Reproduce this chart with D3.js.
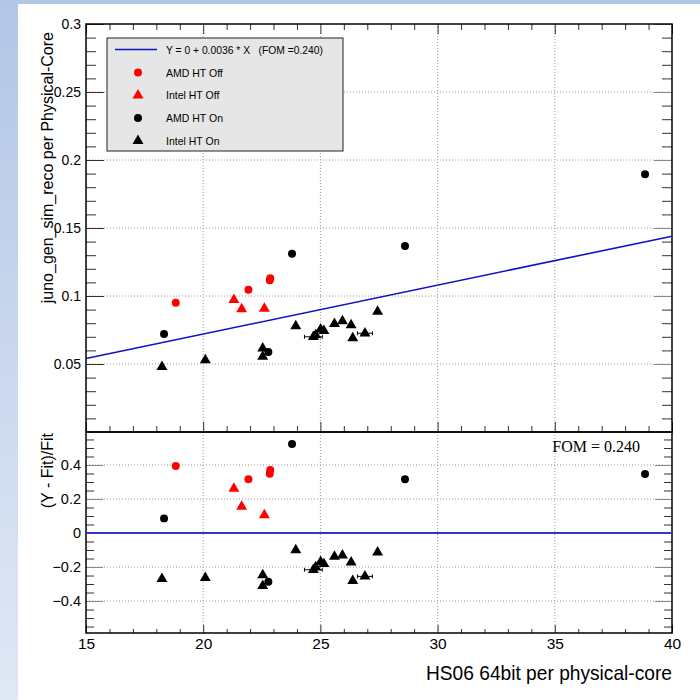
<!DOCTYPE html>
<html>
<head>
<meta charset="utf-8">
<script src="https://cdn.jsdelivr.net/npm/d3@7"></script>
<style>
  body { margin: 0; background: #fff; }
  svg { display: block; }
  text { font-family: "Liberation Sans", Arial, Helvetica, sans-serif; fill: #000; }
</style>
</head>
<body>
<div id="chart"></div>
<script>
// Fit: Y = 0 + 0.0036 * X
var fitSlope = 0.0036;
var fitLabel = "Y = 0 + 0.0036 * X   (FOM =0.240)";
var fomLabel = "FOM = 0.240";

// AMD HT Off (red circles)
var amdOffX = [18.83, 21.93, 22.84, 22.86];
var amdOffY = [0.0950, 0.1046, 0.1115, 0.1131];
var amdOffRes = [0.394, 0.316, 0.348, 0.370];

// Intel HT Off (red triangles)
var intelOffX = [21.31, 21.64, 22.61];
var intelOffY = [0.0971, 0.0904, 0.0907];
var intelOffRes = [0.261, 0.155, 0.106];

// AMD HT On (black circles)
var amdOnX = [18.33, 22.78, 23.79, 28.61, 38.85];
var amdOnY = [0.0721, 0.0588, 0.1311, 0.1368, 0.1895];
var amdOnRes = [0.086, -0.286, 0.524, 0.316, 0.347];

// Intel HT On (black triangles)
var intelOnX = [18.24, 20.09, 22.54, 22.54, 23.95, 24.70, 24.80, 25.01, 25.15, 25.60, 25.94, 26.31, 26.38, 26.90, 27.44];
var intelOnY = [0.0480, 0.0529, 0.0615, 0.0554, 0.0779, 0.0700, 0.0712, 0.0755, 0.0743, 0.0796, 0.0816, 0.0787, 0.0691, 0.0726, 0.0885];
var intelOnRes = [-0.269, -0.263, -0.247, -0.310, -0.100, -0.216, -0.200, -0.169, -0.182, -0.139, -0.131, -0.173, -0.281, -0.255, -0.114];
var intelOnXErr = [0, 0, 0, 0, 0, 0.38, 0, 0, 0, 0, 0, 0, 0, 0.32, 0];

// tick labels
var xTicks = [15, 20, 25, 30, 35, 40];
var yTopTicks = [0.05, 0.1, 0.15, 0.2, 0.25, 0.3];
var yTopLabels = ["0.05", "0.1", "0.15", "0.2", "0.25", "0.3"];
var yBotTicks = [-0.4, -0.2, 0, 0.2, 0.4];
var yBotLabels = ["\u22120.4", "\u22120.2", "0", "0.2", "0.4"];

var legendEntries = [
  { label: "AMD HT Off", color: "#ff0000", shape: "circle" },
  { label: "Intel HT Off", color: "#ff0000", shape: "triangle" },
  { label: "AMD HT On", color: "#000000", shape: "circle" },
  { label: "Intel HT On", color: "#000000", shape: "triangle" }
];

/* ---------- layout ---------- */
var W = 700, H = 700;
var padL = 86, padR = 672, padT = 24, padM = 432, padB = 633;

var svg = d3.select("#chart").append("svg")
  .attr("width", W).attr("height", H);

// canvas background strips
var defs = svg.append("defs");
var grad = defs.append("linearGradient").attr("id", "strip")
  .attr("x1", 0).attr("y1", 0).attr("x2", 0).attr("y2", 1);
grad.append("stop").attr("offset", "0%").attr("stop-color", "#b3c6e6");
grad.append("stop").attr("offset", "100%").attr("stop-color", "#e0e8f5");
svg.append("rect").attr("x", 0).attr("y", 0).attr("width", 18).attr("height", H).attr("fill", "url(#strip)");
svg.append("rect").attr("x", 0).attr("y", 0).attr("width", W).attr("height", 4).attr("fill", "#b3c6e6");

var x = d3.scaleLinear().domain([15, 40]).range([padL, padR]);
var yTop = d3.scaleLinear().domain([0, 0.3]).range([padM, padT]);
var yBot = d3.scaleLinear().domain([-0.588, 0.594]).range([padB, padM]);

var xMinor = d3.range(16, 40, 1).filter(function(v) { return v % 5 !== 0; });
var yTopMinor = d3.range(1, 30, 1).map(function(v) { return v / 100; })
  .filter(function(v, i) { return (i + 1) % 5 !== 0; });
var yBotMinor = d3.range(-11, 12, 1).map(function(v) { return v * 0.05; })
  .filter(function(v) { return Math.abs(Math.round(v * 100) % 20) !== 0; });

/* ---------- grid ---------- */
var grid = svg.append("g")
  .attr("stroke", "#9a9a9a").attr("stroke-width", 1).attr("stroke-dasharray", "1,2");
[20, 25, 30, 35].forEach(function(v) {
  grid.append("line").attr("x1", x(v)).attr("x2", x(v)).attr("y1", padT).attr("y2", padB);
});
yTopTicks.slice(0, 5).forEach(function(v) {
  grid.append("line").attr("x1", padL).attr("x2", padR).attr("y1", yTop(v)).attr("y2", yTop(v));
});
[-0.4, -0.2, 0.2, 0.4].forEach(function(v) {
  grid.append("line").attr("x1", padL).attr("x2", padR).attr("y1", yBot(v)).attr("y2", yBot(v));
});

/* ---------- axes ---------- */
var tickAxis = function(axis, at, values, size, fmt, col) {
  var g = svg.append("g").attr("transform", at)
    .call(axis.tickValues(values).tickSize(size).tickPadding(fmt ? 5 : 0)
      .tickFormat(fmt ? function(d, i) { return fmt[i]; } : ""));
  g.select(".domain").remove();
  g.selectAll("line").attr("stroke", col || "#333");
  return g;
};

// top panel
tickAxis(d3.axisLeft(yTop), "translate(" + padL + ",0)", yTopTicks, -18, yTopLabels)
  .selectAll("text").style("font-size", "14px").attr("font-family", null);
tickAxis(d3.axisLeft(yTop), "translate(" + padL + ",0)", yTopMinor, -10);
tickAxis(d3.axisRight(yTop), "translate(" + padR + ",0)", yTopTicks, -18, null, "#888");
tickAxis(d3.axisRight(yTop), "translate(" + padR + ",0)", yTopMinor, -10);
tickAxis(d3.axisTop(x), "translate(0," + padT + ")", xTicks, -10);
tickAxis(d3.axisTop(x), "translate(0," + padT + ")", xMinor, -6);
tickAxis(d3.axisBottom(x), "translate(0," + padM + ")", xTicks, -10);
tickAxis(d3.axisBottom(x), "translate(0," + padM + ")", xMinor, -6);

// bottom panel
tickAxis(d3.axisLeft(yBot), "translate(" + padL + ",0)", yBotTicks, -17, yBotLabels, "#888")
  .selectAll("text").style("font-size", "14.5px").attr("font-family", null);
tickAxis(d3.axisLeft(yBot), "translate(" + padL + ",0)", yBotMinor, -8);
tickAxis(d3.axisRight(yBot), "translate(" + padR + ",0)", yBotTicks, -17, null, "#888");
tickAxis(d3.axisRight(yBot), "translate(" + padR + ",0)", yBotMinor, -8);
var xAx = tickAxis(d3.axisBottom(x), "translate(0," + padB + ")", xTicks, -8, xTicks.map(String));
xAx.selectAll("text").style("font-size", "15.5px").attr("font-family", null).attr("y", 5);
tickAxis(d3.axisBottom(x), "translate(0," + padB + ")", xMinor, -4);

// frames
svg.append("rect").attr("x", padL).attr("y", padT).attr("width", padR - padL).attr("height", padM - padT)
  .attr("fill", "none").attr("stroke", "#000").attr("stroke-width", 1.5);
svg.append("rect").attr("x", padL).attr("y", padM).attr("width", padR - padL).attr("height", padB - padM)
  .attr("fill", "none").attr("stroke", "#000").attr("stroke-width", 1.5);

/* ---------- fit lines ---------- */
svg.append("line")
  .attr("x1", x(15)).attr("y1", yTop(fitSlope * 15))
  .attr("x2", x(40)).attr("y2", yTop(fitSlope * 40))
  .attr("stroke", "#1010c8").attr("stroke-width", 1.6);
svg.append("line")
  .attr("x1", x(15)).attr("y1", yBot(0))
  .attr("x2", x(40)).attr("y2", yBot(0))
  .attr("stroke", "#3535cc").attr("stroke-width", 2.2);

/* ---------- markers ---------- */
var circleSym = d3.symbol().type(d3.symbolCircle).size(50);
var triSym = d3.symbol().type(d3.symbolTriangle).size(52);

var makeSeries = function(xs, ys, res, shape, color, xErr) {
  return xs.map(function(v, i) {
    return { x: v, y: ys[i], r: res[i], shape: shape, color: color, ex: xErr ? xErr[i] : 0 };
  });
};
var points = [].concat(
  makeSeries(amdOffX, amdOffY, amdOffRes, "circle", "#ff0000"),
  makeSeries(intelOffX, intelOffY, intelOffRes, "triangle", "#ff0000"),
  makeSeries(amdOnX, amdOnY, amdOnRes, "circle", "#000000"),
  makeSeries(intelOnX, intelOnY, intelOnRes, "triangle", "#000000", intelOnXErr)
);

var drawPanel = function(yScale, key) {
  var g = svg.append("g");
  var withErr = points.filter(function(d) { return d.ex > 0; });
  var eb = g.selectAll(".eb").data(withErr).enter().append("g")
    .attr("stroke", "#000").attr("stroke-width", 1);
  eb.append("line")
    .attr("x1", function(d) { return x(d.x - d.ex); })
    .attr("x2", function(d) { return x(d.x + d.ex); })
    .attr("y1", function(d) { return yScale(d[key]); })
    .attr("y2", function(d) { return yScale(d[key]); });
  [-1, 1].forEach(function(s) {
    eb.append("line")
      .attr("x1", function(d) { return x(d.x + s * d.ex); })
      .attr("x2", function(d) { return x(d.x + s * d.ex); })
      .attr("y1", function(d) { return yScale(d[key]) - 2; })
      .attr("y2", function(d) { return yScale(d[key]) + 2; });
  });
  g.selectAll("path").data(points).enter().append("path")
    .attr("d", function(d) { return d.shape === "circle" ? circleSym() : triSym(); })
    .attr("transform", function(d) { return "translate(" + x(d.x) + "," + yScale(d[key]) + ")"; })
    .attr("fill", function(d) { return d.color; });
};
drawPanel(yTop, "y");
drawPanel(yBot, "r");

/* ---------- legend ---------- */
var lg = svg.append("g");
lg.append("rect").attr("x", 107).attr("y", 38).attr("width", 236).attr("height", 113)
  .attr("fill", "#e6e6e6").attr("stroke", "#222").attr("stroke-width", 1);
lg.append("line").attr("x1", 115).attr("x2", 157).attr("y1", 49.5).attr("y2", 49.5)
  .attr("stroke", "#1010c8").attr("stroke-width", 1.6);
lg.append("text").attr("x", 166).attr("y", 53.5)
  .attr("xml:space", "preserve").style("white-space", "pre")
  .attr("textLength", 157).attr("lengthAdjust", "spacingAndGlyphs")
  .style("font-size", "11px").text(fitLabel);
legendEntries.forEach(function(e, i) {
  var cy = 72.5 + i * 22.8;
  lg.append("path")
    .attr("d", e.shape === "circle" ? circleSym() : triSym())
    .attr("transform", "translate(138," + cy + ")")
    .attr("fill", e.color);
  lg.append("text").attr("x", 166).attr("y", cy + 4)
    .style("font-size", "10.5px").text(e.label);
});

/* ---------- titles ---------- */
svg.append("text")
  .attr("transform", "translate(53," + (padT + 8) + ") rotate(-90)")
  .attr("text-anchor", "end")
  .style("font-size", "16px")
  .text("juno_gen_sim_reco per Physical-Core");
svg.append("text")
  .attr("transform", "translate(53," + (padM + 1) + ") rotate(-90)")
  .attr("text-anchor", "end")
  .style("font-size", "16px")
  .text("(Y - Fit)/Fit");
svg.append("text")
  .attr("x", padR).attr("y", 680)
  .attr("text-anchor", "end")
  .attr("textLength", 246).attr("lengthAdjust", "spacingAndGlyphs")
  .style("font-size", "21px")
  .text("HS06 64bit per physical-core");
svg.append("text")
  .attr("x", 640).attr("y", 452)
  .attr("text-anchor", "end")
  .style("font-family", "'Liberation Serif', 'Times New Roman', serif")
  .style("font-size", "16px")
  .text(fomLabel);
</script>
</body>
</html>
